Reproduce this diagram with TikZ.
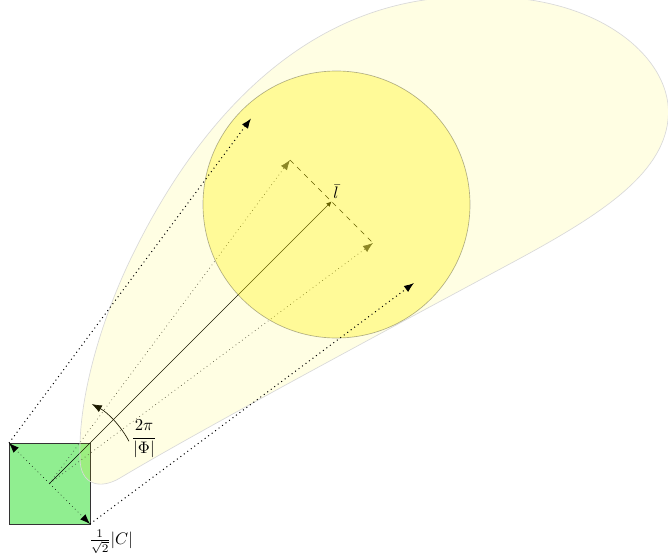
\documentclass[tikz,border=0pt]{standalone}
\usetikzlibrary{arrows.meta}
\definecolor{sqgreen}{RGB}{144,238,144}
\begin{document}
\begin{tikzpicture}[x=0.6pt,y=0.6pt,
  tipL/.style={-{Latex[length=6pt,width=4.5pt]}},
  outerline/.style={dotted, semithick, tipL},
  innerline/.style={dotted, black!75, tipL},
  blobstyle/.style={fill=yellow, fill opacity=0.11, draw=black!15},
  ballstyle/.style={fill=yellow, fill opacity=0.33, draw=black, draw opacity=0.3},
]
\path[use as bounding box] (0,0) rectangle (668,-560);
\clip (0,0) rectangle (668,-560);
% key points
\coordinate (O)  at (49.5,-483.5);
\coordinate (TL) at (9,-443);
\coordinate (BR) at (90,-524);
\coordinate (A)  at (290,-160);
\coordinate (B)  at (373,-243);
\coordinate (L)  at (331.5,-201.5);
\coordinate (P)  at (251,-118.5);
\coordinate (Q)  at (414,-283);
\coordinate (C)  at (336.5,-204.5);
% square
\draw[fill=sqgreen, draw=black!80, line width=0.6pt] (TL) rectangle (BR);
\draw[dotted, tipL] (O) -- (TL);
\draw[dotted, tipL] (O) -- (BR);
% inner lines
\draw[innerline] (O) -- (A);
\draw[innerline] (O) -- (B);
\draw[dashed] (A) -- (B);
\draw[-{Latex[length=3pt,width=3pt]}] (O) -- (L);
% angle arc
\draw[tipL] (O) ++(28:90) arc[start angle=28, end angle=62, radius=90];
% blob
\draw[blobstyle] (80,-458) .. controls (78,-400) and (100,-320) .. (135,-250)
  .. controls (175,-170) and (280,10) .. (480,3)
  .. controls (600,6) and (675,-60) .. (668,-120)
  .. controls (662,-175) and (600,-215) .. (517,-260)
  .. controls (400,-323) and (200,-430) .. (120,-478)
  .. controls (100,-490) and (80,-485) .. (80,-458) -- cycle;
% ball
\draw[ballstyle] (C) circle[radius=133.5];
% outer lines
\draw[outerline] (TL) -- (P);
\draw[outerline] (BR) -- (Q);
% labels
\node (lbar) at (336,-192) {$\bar{l}$};
\node (phi) at (144,-439) {$\displaystyle\frac{2\pi}{|\Phi|}$};
\node (cl) at (111,-542) {$\frac{1}{\sqrt{2}}|C|$};
\end{tikzpicture}
\end{document}
